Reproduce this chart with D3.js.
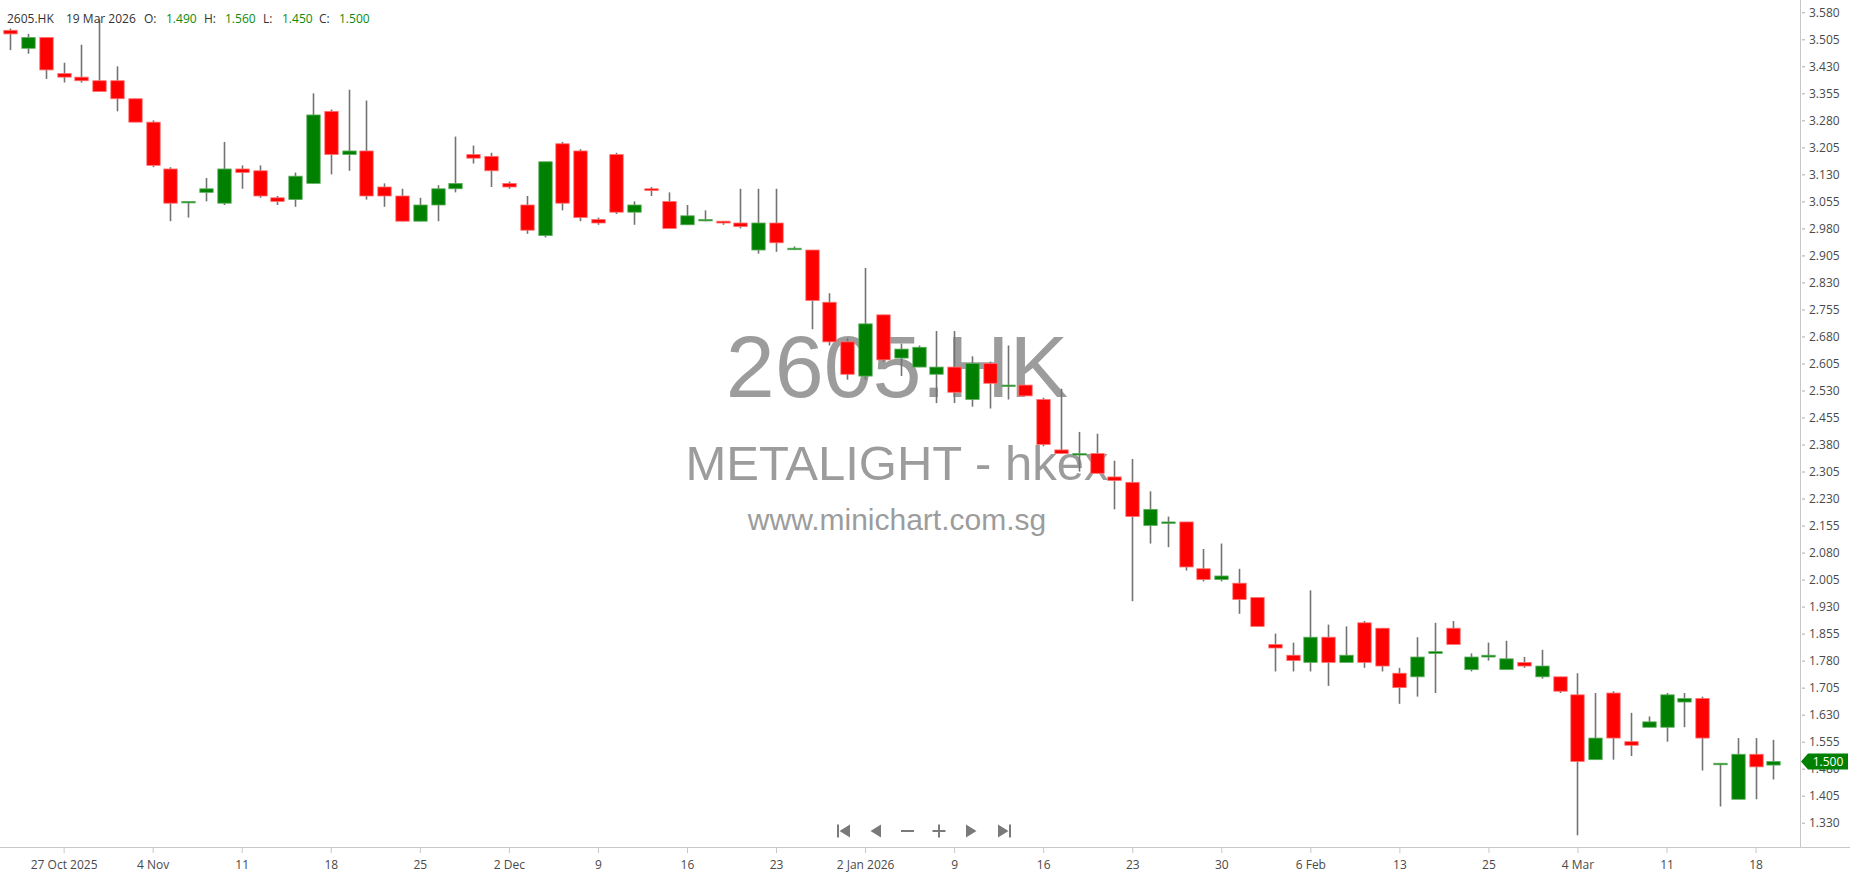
<!DOCTYPE html>
<html><head><meta charset="utf-8">
<script src="https://cdn.jsdelivr.net/npm/d3@7"></script>
<style>
html,body{margin:0;padding:0;background:#fff;overflow:hidden;}
svg{display:block;}
</style></head><body>
<svg id="chart" width="1850" height="874"></svg>
<script>
// ---- data ----
const symbol = "2605.HK";
const companyName = "METALIGHT - hkex";
const siteName = "www.minichart.com.sg";
const dates = [
"2025-10-22","2025-10-23","2025-10-24","2025-10-27","2025-10-28","2025-10-30","2025-10-31",
"2025-11-03","2025-11-04","2025-11-05","2025-11-06","2025-11-07","2025-11-10","2025-11-11","2025-11-12","2025-11-13","2025-11-14",
"2025-11-17","2025-11-18","2025-11-19","2025-11-20","2025-11-21","2025-11-24","2025-11-25","2025-11-26","2025-11-27","2025-11-28",
"2025-12-01","2025-12-02","2025-12-03","2025-12-04","2025-12-05","2025-12-08","2025-12-09","2025-12-10","2025-12-11","2025-12-12",
"2025-12-15","2025-12-16","2025-12-17","2025-12-18","2025-12-19","2025-12-22","2025-12-23","2025-12-24","2025-12-29","2025-12-30","2025-12-31",
"2026-01-02","2026-01-05","2026-01-06","2026-01-07","2026-01-08","2026-01-09","2026-01-12","2026-01-13","2026-01-14","2026-01-15","2026-01-16",
"2026-01-19","2026-01-20","2026-01-21","2026-01-22","2026-01-23","2026-01-26","2026-01-27","2026-01-28","2026-01-29","2026-01-30",
"2026-02-02","2026-02-03","2026-02-04","2026-02-05","2026-02-06","2026-02-09","2026-02-10","2026-02-11","2026-02-12","2026-02-13",
"2026-02-16","2026-02-20","2026-02-23","2026-02-24","2026-02-25","2026-02-26","2026-02-27",
"2026-03-02","2026-03-03","2026-03-04","2026-03-05","2026-03-06","2026-03-09","2026-03-10","2026-03-11","2026-03-12","2026-03-13",
"2026-03-16","2026-03-17","2026-03-18","2026-03-19"];
const open = [3.53,3.48,3.51,3.41,3.40,3.39,3.39,3.34,3.275,3.145,
3.055,3.08,3.05,3.145,3.14,3.065,3.06,3.105,3.305,3.185,
3.195,3.095,3.07,3.00,3.045,3.09,3.185,3.18,3.105,3.045,
2.96,3.215,3.195,3.005,3.185,3.025,3.09,3.055,2.99,3.005,
3.00,2.995,2.92,2.995,2.925,2.92,2.775,2.665,2.57,2.74,
2.62,2.595,2.575,2.595,2.505,2.605,2.545,2.545,2.505,2.365,
2.355,2.355,2.29,2.275,2.155,2.165,2.165,2.035,2.005,1.995,
1.955,1.825,1.795,1.775,1.845,1.775,1.885,1.87,1.745,1.735,
1.80,1.87,1.755,1.79,1.755,1.775,1.735,1.735,1.685,1.505,
1.69,1.555,1.595,1.595,1.665,1.675,1.495,1.395,1.52,1.49];
const high = [3.535,3.52,3.51,3.44,3.49,3.56,3.43,3.34,3.28,3.15,
3.055,3.12,3.22,3.155,3.155,3.07,3.135,3.355,3.31,3.365,
3.335,3.105,3.09,3.065,3.10,3.235,3.21,3.19,3.11,3.07,
3.165,3.22,3.20,3.01,3.19,3.055,3.095,3.08,3.045,3.03,
3.00,3.09,3.09,3.09,2.93,2.92,2.80,2.675,2.87,2.74,
2.66,2.655,2.695,2.695,2.625,2.61,2.655,2.545,2.51,2.535,
2.415,2.41,2.335,2.34,2.25,2.18,2.165,2.09,2.105,2.035,
1.955,1.855,1.83,1.975,1.88,1.875,1.89,1.87,1.76,1.845,
1.885,1.89,1.80,1.83,1.835,1.79,1.81,1.735,1.745,1.69,
1.695,1.635,1.625,1.69,1.69,1.68,1.495,1.565,1.565,1.56];
const low = [3.475,3.465,3.395,3.385,3.385,3.36,3.305,3.275,3.15,3.00,
3.01,3.055,3.045,3.09,3.065,3.045,3.04,3.105,3.13,3.14,
3.06,3.04,3.00,3.00,3.00,3.08,3.16,3.095,3.09,2.965,
2.955,3.03,3.00,2.99,3.02,2.99,3.07,2.98,2.99,3.00,
2.99,2.98,2.91,2.915,2.92,2.70,2.655,2.56,2.56,2.61,
2.57,2.595,2.495,2.495,2.485,2.48,2.505,2.515,2.375,2.355,
2.305,2.30,2.20,1.945,2.105,2.095,2.03,2.00,2.00,1.91,
1.875,1.75,1.75,1.75,1.71,1.775,1.76,1.75,1.66,1.68,
1.69,1.83,1.75,1.78,1.755,1.76,1.73,1.69,1.295,1.505,
1.505,1.515,1.595,1.555,1.595,1.475,1.375,1.395,1.395,1.45];
const close = [3.52,3.51,3.42,3.40,3.39,3.36,3.34,3.275,3.155,3.05,
3.055,3.09,3.145,3.135,3.07,3.055,3.125,3.295,3.185,3.195,
3.07,3.07,3.00,3.045,3.09,3.105,3.175,3.14,3.095,2.975,
3.165,3.05,3.01,2.995,3.025,3.045,3.085,2.98,3.015,3.005,
2.995,2.985,2.995,2.94,2.925,2.78,2.665,2.575,2.715,2.615,
2.645,2.65,2.595,2.525,2.605,2.55,2.545,2.515,2.38,2.355,
2.355,2.30,2.28,2.18,2.20,2.165,2.04,2.005,2.015,1.95,
1.875,1.815,1.78,1.845,1.775,1.795,1.775,1.765,1.705,1.79,
1.805,1.825,1.79,1.795,1.785,1.765,1.765,1.695,1.50,1.565,
1.565,1.545,1.61,1.685,1.675,1.565,1.495,1.52,1.485,1.50];
const yTicks = [3.580,3.505,3.430,3.355,3.280,3.205,3.130,3.055,2.980,2.905,2.830,2.755,2.680,2.605,2.530,2.455,2.380,2.305,2.230,2.155,2.080,2.005,1.930,1.855,1.780,1.705,1.630,1.555,1.480,1.405,1.330];
const xTickDates = ["2025-10-27","2025-11-04","2025-11-11","2025-11-18","2025-11-25","2025-12-02","2025-12-09","2025-12-16","2025-12-23","2026-01-02","2026-01-09","2026-01-16","2026-01-23","2026-01-30","2026-02-06","2026-02-13","2026-02-25","2026-03-04","2026-03-11","2026-03-18"];
const xTickLabels = ["27 Oct 2025","4 Nov","11","18","25","2 Dec","9","16","23","2 Jan 2026","9","16","23","30","6 Feb","13","25","4 Mar","11","18"];
const headerDate = "19 Mar 2026";

// ---- layout ----
const W = 1850, H = 874;
const plotRight = 1800, axisY = 847;
const svg = d3.select("#chart");
const UP = "#008000", DOWN = "#ff0000";
const FONT = "'Open Sans', 'Noto Sans', sans-serif";

const x = d3.scaleLinear().domain([0, dates.length - 1]).range([10.2, 1773.4]);
const y = d3.scaleLinear().domain([1.330, 3.580]).range([822.7, 12.3]);
const bw = 13.4;

// watermark
const wm = svg.append("g").attr("fill", "#9c9c9c").attr("text-anchor", "middle")
  .style("font-family", "'Liberation Sans', Arial, sans-serif");
wm.append("text").attr("x", 897).attr("y", 397).style("font-size", "88px").text(symbol);
wm.append("text").attr("x", 897).attr("y", 480).style("font-size", "49px").text(companyName);
wm.append("text").attr("x", 897).attr("y", 530).style("font-size", "30px").text(siteName);

// axes lines
svg.append("line").attr("x1", 0).attr("x2", W).attr("y1", axisY + 0.5).attr("y2", axisY + 0.5)
  .attr("stroke", "#c8c8c8").attr("stroke-width", 1);
svg.append("line").attr("x1", plotRight + 0.5).attr("x2", plotRight + 0.5).attr("y1", 0).attr("y2", axisY)
  .attr("stroke", "#c8c8c8").attr("stroke-width", 1);

// x axis
const xAxis = d3.axisBottom(x)
  .tickValues(xTickDates.map(d => dates.indexOf(d)))
  .tickFormat((d, i) => xTickLabels[i])
  .tickSize(5).tickPadding(7);
const gx = svg.append("g").attr("transform", `translate(0,${axisY + 1})`).call(xAxis);
gx.select(".domain").remove();
gx.selectAll("line").attr("stroke", "#c8c8c8");
gx.selectAll("text").attr("fill", "#4a4a4a").style("font-family", FONT).style("font-size", "12px");

// y axis
const yAxis = d3.axisRight(y).tickValues(yTicks).tickFormat(d3.format(".3f")).tickSize(0).tickPadding(9);
const gy = svg.append("g").attr("transform", `translate(${plotRight},0)`).call(yAxis);
gy.select(".domain").remove();
gy.selectAll(".tick").append("line").attr("x1", 2).attr("x2", 5).attr("stroke", "#aaa");
gy.selectAll("text").attr("fill", "#4a4a4a").style("font-family", FONT).style("font-size", "12px");

// candles
const idx = d3.range(dates.length);
const g = svg.append("g");
g.selectAll("line.wick").data(idx).join("line").attr("class", "wick")
  .attr("x1", i => Math.round(x(i)) + 0.5).attr("x2", i => Math.round(x(i)) + 0.5)
  .attr("y1", i => y(high[i])).attr("y2", i => y(low[i]))
  .attr("stroke", "#737373").attr("stroke-width", 1.6);
g.selectAll("rect.body").data(idx).join("rect").attr("class", "body")
  .attr("x", i => Math.round(x(i)) + 0.5 - bw / 2)
  .attr("width", bw)
  .attr("y", i => y(Math.max(open[i], close[i])))
  .attr("height", i => Math.max(1.5, Math.abs(y(open[i]) - y(close[i]))))
  .attr("fill", i => close[i] >= open[i] ? UP : DOWN)
  .attr("stroke", i => close[i] >= open[i] ? "#5fae5f" : "#ff7070")
  .attr("stroke-width", 0.8);

// header
const hdr = svg.append("text").attr("x", 7).attr("y", 23).style("font-family", FONT).style("font-size", "12px");
const last = dates.length - 1;
const fmt = d3.format(".3f");
const parts = [
  [symbol, "#333", 7], [headerDate, "#333", 66],
  ["O:", "#333", 144], [fmt(open[last]), "#0a8a0a", 166],
  ["H:", "#333", 204], [fmt(high[last]), "#0a8a0a", 225],
  ["L:", "#333", 263], [fmt(low[last]), "#0a8a0a", 282],
  ["C:", "#333", 319], [fmt(close[last]), "#0a8a0a", 339]
];
parts.forEach(p => hdr.append("tspan").attr("x", p[2]).attr("fill", p[1]).text(p[0]));

// price badge
const by = y(close[last]);
svg.append("path")
  .attr("d", `M1801,${by} L1808,${by - 8} L1848,${by - 8} L1848,${by + 8} L1808,${by + 8} Z`)
  .attr("fill", "#008000");
svg.append("text").attr("x", 1828).attr("y", by + 4.5).attr("text-anchor", "middle")
  .attr("fill", "#fff").style("font-family", FONT).style("font-size", "12px").text(fmt(close[last]));

// navigation icons
const nav = svg.append("g").attr("fill", "#7a7a7a");
const cy = 831;
nav.append("rect").attr("x", 837).attr("y", cy - 6.5).attr("width", 2).attr("height", 13);
nav.append("path").attr("d", `M850,${cy - 6.5} L839.5,${cy} L850,${cy + 6.5} Z`);
nav.append("path").attr("d", `M881,${cy - 6.5} L870.5,${cy} L881,${cy + 6.5} Z`);
nav.append("rect").attr("x", 901).attr("y", cy - 1).attr("width", 13).attr("height", 2);
nav.append("rect").attr("x", 932.5).attr("y", cy - 1).attr("width", 13).attr("height", 2);
nav.append("rect").attr("x", 938).attr("y", cy - 6.5).attr("width", 2).attr("height", 13);
nav.append("path").attr("d", `M966,${cy - 6.5} L976.5,${cy} L966,${cy + 6.5} Z`);
nav.append("path").attr("d", `M998,${cy - 6.5} L1008.5,${cy} L998,${cy + 6.5} Z`);
nav.append("rect").attr("x", 1009).attr("y", cy - 6.5).attr("width", 2).attr("height", 13);
</script>
</body></html>
